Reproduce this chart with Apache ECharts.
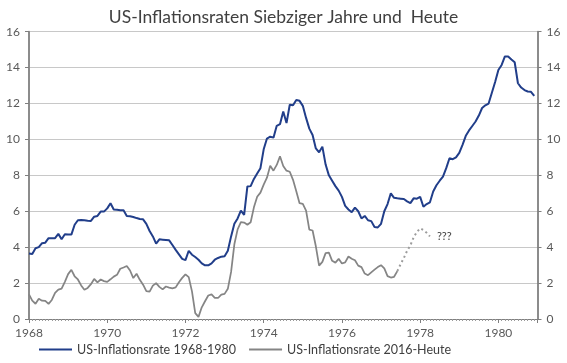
<!DOCTYPE html>
<html><head><meta charset="utf-8">
<script src="https://cdn.jsdelivr.net/npm/echarts@6/dist/echarts.min.js"></script>
<style>html,body{margin:0;padding:0;background:#fff}#c{width:567px;height:363px}</style>
</head><body><div id="c"></div>
<script>
// monthly, Jan 1968 .. Dec 1980
const startYear = 1968;
const blue1968_1980 = [
 3.65,3.62,3.94,4.00,4.22,4.25,4.50,4.50,4.50,4.74,4.44,4.72,
 4.71,4.70,5.25,5.50,5.52,5.50,5.47,5.46,5.70,5.74,5.98,5.98,
 6.16,6.45,6.10,6.08,6.06,6.05,5.74,5.72,5.68,5.62,5.57,5.55,
 5.30,4.90,4.60,4.20,4.44,4.42,4.40,4.38,4.12,3.85,3.60,3.35,
 3.28,3.80,3.58,3.45,3.30,3.10,2.99,2.99,3.10,3.30,3.40,3.47,
 3.50,3.80,4.60,5.30,5.60,6.04,5.80,7.38,7.40,7.80,8.10,8.40,
 9.45,10.05,10.15,10.10,10.76,10.85,11.56,10.91,11.93,11.90,12.20,12.15,
 11.87,11.20,10.60,10.25,9.50,9.28,9.60,8.60,8.00,7.70,7.40,7.15,
 6.80,6.30,6.10,5.95,6.20,6.00,5.60,5.74,5.50,5.45,5.12,5.10,
 5.30,6.00,6.40,7.00,6.75,6.72,6.70,6.68,6.55,6.45,6.72,6.70,
 6.80,6.25,6.40,6.50,7.10,7.45,7.70,7.93,8.40,8.95,8.90,9.00,
 9.25,9.70,10.20,10.50,10.75,11.00,11.33,11.75,11.90,12.00,12.60,13.20,
 13.87,14.15,14.62,14.62,14.45,14.30,13.13,12.89,12.75,12.67,12.65,12.42
];
// monthly, Jan 2016 .. Jun 2025, drawn on the 1968 time line
const gray2016_now = [
 1.37,1.02,0.85,1.13,1.02,1.01,0.84,1.06,1.46,1.64,1.69,2.07,
 2.50,2.74,2.38,2.20,1.87,1.63,1.73,1.94,2.23,2.04,2.20,2.11,
 2.07,2.21,2.36,2.46,2.80,2.87,2.95,2.70,2.28,2.52,2.18,1.91,
 1.55,1.52,1.86,2.00,1.79,1.65,1.81,1.75,1.71,1.76,2.05,2.29,
 2.49,2.33,1.54,0.33,0.12,0.65,0.99,1.31,1.37,1.18,1.17,1.36,
 1.40,1.68,2.62,4.16,4.99,5.39,5.37,5.25,5.39,6.22,6.81,7.04,
 7.48,7.87,8.54,8.26,8.58,9.06,8.52,8.26,8.20,7.75,7.11,6.45,
 6.41,6.04,4.98,4.93,4.05,2.97,3.18,3.67,3.70,3.24,3.14,3.35,
 3.09,3.15,3.48,3.36,3.27,2.97,2.89,2.53,2.44,2.60,2.75,2.89,
 3.00,2.82,2.39,2.31,2.35,2.67
];
// projection, Jun 2025 .. Apr 2026 (dotted)
const projectionStartIndex = 113;
const projection = [2.67,3.05,3.40,3.80,4.10,4.55,4.85,5.05,4.95,4.80,4.60];
const projectionLabel = '???';
const yTicks = [0,2,4,6,8,10,12,14,16];
const xTickYears = [1968,1970,1972,1974,1976,1978,1980];
const seriesNames = ['US-Inflationsrate 1968-1980','US-Inflationsrate 2016-Heute'];
const titleText = 'US-Inflationsraten Siebziger Jahre und  Heute';

const toPts = (arr, offset) => arr.map((v,i)=>[startYear + (offset+i)/12, v]);
const FONT = 'Lato';
const BLUE = '#213e8a', GRAY = '#858585';

const chart = echarts.init(document.getElementById('c'), null, {renderer:'canvas'});
const yAxisBase = {
  type:'value', min:yTicks[0], max:yTicks[yTicks.length-1], interval:yTicks[1]-yTicks[0],
  axisLine:{show:true, lineStyle:{color:'#8c8c8c', width:2}},
  axisTick:{show:true, length:4, lineStyle:{color:'#7f7f7f'}},
  axisLabel:{color:'#595959', fontFamily:FONT, fontSize:12, margin:9},
};
chart.setOption({
  animation:false,
  title:{text:titleText, left:'center', top:3,
    textStyle:{fontFamily:FONT, fontSize:17.5, fontWeight:'normal', color:'#404040'}},
  grid:{left:29, right:29.5, top:31.7, bottom:44, containLabel:false},
  xAxis:{type:'value', min:xTickYears[0], max:1981, interval:2,
    axisLine:{show:true, onZero:false, lineStyle:{color:'#7f7f7f', width:1}},
    axisTick:{show:true, length:4, lineStyle:{color:'#7f7f7f'}},
    minorTick:{show:true, splitNumber:24, length:2, lineStyle:{color:'#9a9a9a'}},
    splitLine:{show:false},
    axisLabel:{color:'#595959', fontFamily:FONT, fontSize:12, margin:8, showMaxLabel:false,
      formatter:v=>String(v)}},
  yAxis:[
    Object.assign({}, yAxisBase, {position:'left',
      splitLine:{show:true, lineStyle:{color:'#c8c8c8', width:1}}}),
    Object.assign({}, yAxisBase, {position:'right', splitLine:{show:false}})
  ],
  legend:{data:seriesNames, bottom:2, left:34, icon:'rect', itemWidth:33, itemHeight:2, itemGap:13,
    textStyle:{fontFamily:FONT, fontSize:12.5, color:'#404040'}},
  series:[
    {name:seriesNames[0], type:'line', data:toPts(blue1968_1980,0), showSymbol:false,
      lineStyle:{color:BLUE, width:2}, itemStyle:{color:BLUE}},
    {name:seriesNames[1], type:'line', data:toPts(gray2016_now,0), showSymbol:false,
      lineStyle:{color:GRAY, width:1.75}, itemStyle:{color:GRAY}},
    {name:'proj', type:'line', data:toPts(projection, projectionStartIndex), showSymbol:false,
      lineStyle:{color:'#9c9c9c', width:2, type:[2,3]}, itemStyle:{color:'#9c9c9c'},
      endLabel:{show:true, formatter:projectionLabel, color:'#404040', fontFamily:FONT, fontSize:11, distance:7}}
  ]
});
</script></body></html>
